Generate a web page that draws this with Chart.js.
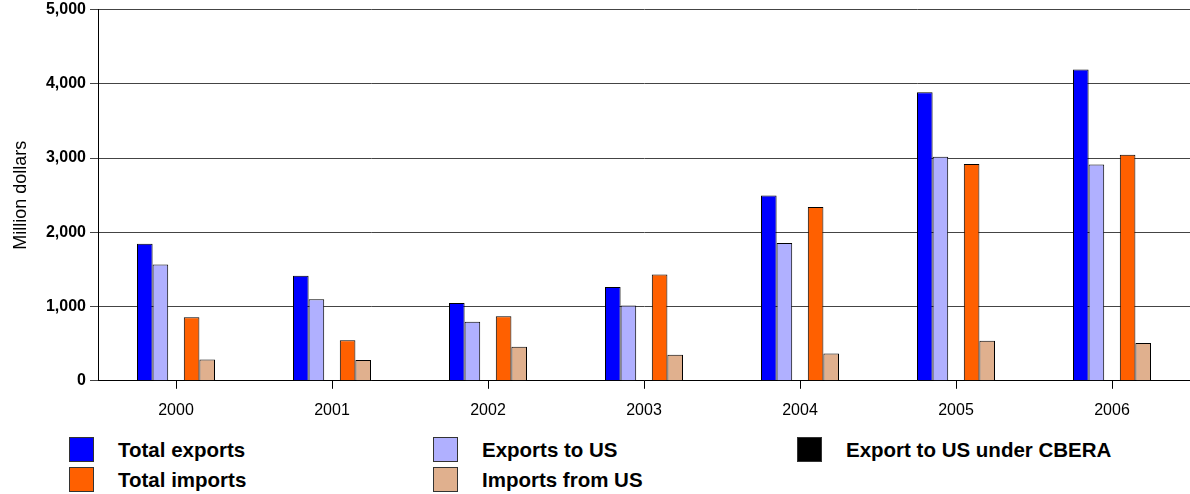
<!DOCTYPE html>
<html>
<head>
<meta charset="utf-8">
<script src="https://cdn.jsdelivr.net/npm/chart.js@4"></script>
<style>
  body { margin: 0; background: #fff; font-family: "Liberation Sans", Arial, sans-serif; }
  #wrap { position: relative; width: 1190px; height: 494px; overflow: hidden; }
  #box { position: absolute; left: 0; top: -4px; width: 1190px; height: 436px; }
  .leg { position: absolute; height: 25px; display: flex; align-items: center; font-weight: bold; font-size: 20.5px; color: #000; }
  .leg i { display: inline-block; width: 23px; height: 23px; border: 1px solid #333; margin-right: 24px; }
</style>
</head>
<body>
<div id="wrap">
  <div id="box"><canvas id="barChart"></canvas></div>
  <div id="legend"></div>
</div>
<script>
const years = ['2000', '2001', '2002', '2003', '2004', '2005', '2006'];
const totalExports = [1846, 1414, 1049, 1265, 2495, 3887, 4193];
const exportsToUS = [1568, 1099, 797, 1013, 1855, 3018, 2914];
const exportsCBERA = [0, 0, 0, 0, 0, 0, 0];
const totalImports = [855, 545, 869, 1432, 2342, 2919, 3045];
const importsFromUS = [288, 279, 459, 351, 369, 540, 508];
const yTicks = [0, 1000, 2000, 3000, 4000, 5000];

const series = [
  { label: 'Total exports', data: totalExports, color: '#0000ff', left: 69, top: 437 },
  { label: 'Exports to US', data: exportsToUS, color: '#b0b0ff', left: 433, top: 437 },
  { label: 'Export to US under CBERA', data: exportsCBERA, color: '#000000', left: 797, top: 437 },
  { label: 'Total imports', data: totalImports, color: '#ff6000', left: 69, top: 467 },
  { label: 'Imports from US', data: importsFromUS, color: '#e0b08e', left: 433, top: 467 }
];

// legend laid out in columns like the original
const legend = document.getElementById('legend');
series.forEach(s => {
  const d = document.createElement('div');
  d.className = 'leg';
  d.style.left = s.left + 'px';
  d.style.top = s.top + 'px';
  d.innerHTML = '<i style="background:' + s.color + '"></i>' + s.label;
  legend.appendChild(d);
});

const ctx = document.getElementById('barChart').getContext('2d');
new Chart(ctx, {
  type: 'bar',
  data: {
    labels: years,
    datasets: series.map(s => ({
      label: s.label,
      data: s.data,
      backgroundColor: s.color,
      borderColor: '#000',
      borderWidth: 1,
      categoryPercentage: 0.5,
      barPercentage: 1.0
    }))
  },
  options: {
    responsive: true,
    maintainAspectRatio: false,
    animation: false,
    layout: { padding: { top: -1, right: 0, bottom: 0, left: 0 } },
    plugins: { legend: { display: false }, tooltip: { enabled: false } },
    scales: {
      x: {
        grid: { display: true, drawOnChartArea: false, offset: false, tickLength: 8, color: '#000' },
        border: { color: '#000' },
        ticks: { padding: 12, color: '#000', font: { family: 'Liberation Sans', size: 16 } }
      },
      y: {
        min: 0,
        max: 5000,
        afterBuildTicks: scale => { scale.ticks = yTicks.map(v => ({ value: v })); },
        afterFit: scale => { scale.width = 98; },
        grid: { color: '#444', tickLength: 8 },
        border: { color: '#000' },
        ticks: {
          padding: 4,
          color: '#000',
          font: { family: 'Liberation Sans', size: 16, weight: 'bold' },
          callback: v => v.toLocaleString('en-US')
        },
        title: {
          display: true,
          text: 'Million dollars',
          color: '#000',
          padding: { top: 10, bottom: 0 },
          font: { family: 'Liberation Sans', size: 18 }
        }
      }
    }
  }
});
</script>
</body>
</html>
